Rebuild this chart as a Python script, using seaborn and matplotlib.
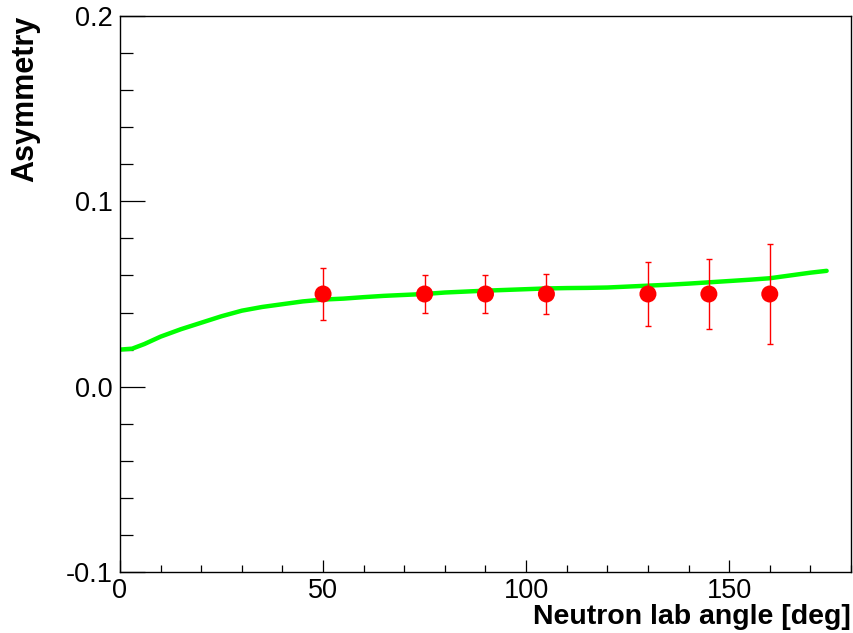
import matplotlib
matplotlib.use("Agg")
import matplotlib.pyplot as plt
import seaborn as sns
import pandas as pd
from matplotlib.ticker import MultipleLocator

# Data
angle_pts = [50, 75, 90, 105, 130, 145, 160]
asym_pts = [0.050, 0.050, 0.050, 0.050, 0.050, 0.050, 0.050]
asym_err = [0.014, 0.010, 0.010, 0.011, 0.0175, 0.019, 0.027]

curve_angle = [0, 3, 6, 10, 15, 20, 25, 30, 35, 40, 45, 50, 55, 60, 65, 70, 75, 80,
               85, 90, 95, 100, 105, 110, 115, 120, 125, 130, 135, 140, 145, 150,
               155, 160, 165, 170, 174]
curve_asym = [0.020, 0.0205, 0.023, 0.027, 0.031, 0.0345, 0.038, 0.041, 0.043, 0.0445,
              0.046, 0.047, 0.0475, 0.0483, 0.049, 0.0495, 0.050, 0.0508, 0.0513,
              0.0518, 0.0522, 0.0526, 0.053, 0.0532, 0.0533, 0.0535, 0.054, 0.0545,
              0.055, 0.0556, 0.0563, 0.057, 0.0577, 0.0585, 0.060, 0.0615, 0.0625]

xticks = [0, 50, 100, 150]
yticks = [-0.1, 0.0, 0.1, 0.2]
ytick_labels = ["-0.1", "0.0", "0.1", "0.2"]

sns.set_theme(style="white")
plt.rcParams['font.family'] = ['Liberation Sans', 'DejaVu Sans']
plt.rcParams['text.color'] = 'black'
plt.rcParams['axes.labelcolor'] = 'black'
plt.rcParams['xtick.color'] = 'black'
plt.rcParams['ytick.color'] = 'black'

fig = plt.figure(figsize=(8.54, 6.33), dpi=100)
ax = fig.add_axes([120/854, 1 - 572/633, (851-120)/854, (572-16)/633])

df_curve = pd.DataFrame({"angle": curve_angle, "asym": curve_asym})
df_pts = pd.DataFrame({"angle": angle_pts, "asym": asym_pts, "err": asym_err})

sns.lineplot(data=df_curve, x="angle", y="asym", color="#00ff00", linewidth=3.2, ax=ax, zorder=2)
ax.errorbar(df_pts["angle"], df_pts["asym"], yerr=df_pts["err"], fmt="none",
            ecolor="#ff0000", elinewidth=1.0, capsize=2.5, capthick=1.0, zorder=3)
sns.scatterplot(data=df_pts, x="angle", y="asym", color="#ff0000", s=150, marker="o",
                edgecolor="none", ax=ax, zorder=4)

ax.set_xlim(0, 180)
ax.set_ylim(-0.1, 0.2)
ax.set_xticks(xticks)
ax.set_xticklabels([str(t) for t in xticks])
ax.set_yticks(yticks)
ax.set_yticklabels(ytick_labels)
ax.xaxis.set_minor_locator(MultipleLocator(10))
ax.yaxis.set_minor_locator(MultipleLocator(0.02))

ax.tick_params(axis='both', which='both', direction='in', colors='black',
               bottom=True, left=True, top=False, right=False, labelsize=19.5, width=0.9)
ax.tick_params(axis='y', which='major', length=18, pad=5)
ax.tick_params(axis='y', which='minor', length=9.5)
ax.tick_params(axis='x', which='major', length=8.6, pad=4)
ax.tick_params(axis='x', which='minor', length=5)

for sp in ax.spines.values():
    sp.set_color('black')
    sp.set_linewidth(1.0)
    sp.set_visible(True)

ax.set_xlabel("Neutron lab angle [deg]", fontsize=20.5, fontweight='bold', loc='right',
              labelpad=0.5, color='black')
ax.set_ylabel("Asymmetry", fontsize=22, fontweight='bold', loc='top', labelpad=18.5,
              color='black')
ax.grid(False)

fig.savefig("out.png", dpi=100)
